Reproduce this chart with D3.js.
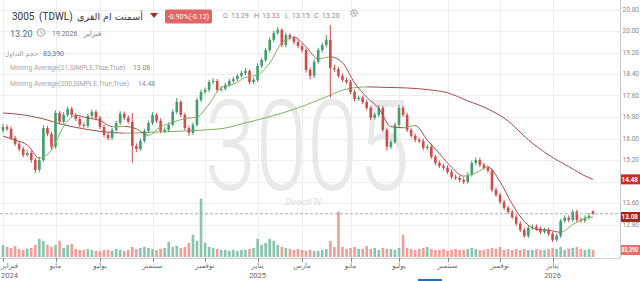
<!DOCTYPE html>
<html><head><meta charset="utf-8">
<script src="https://cdn.jsdelivr.net/npm/d3@7"></script>
<style>
html,body{margin:0;padding:0;background:#fff;overflow:hidden;}
svg{display:block;font-family:Roboto,"Noto Sans","DejaVu Sans",sans-serif;}
</style></head><body>
<svg id="c" width="640" height="281"></svg>
<script>
// ---------- DATA ----------
const dates = [
"2024-02-19","2024-02-25","2024-03-03","2024-03-07","2024-03-12","2024-03-17","2024-03-21","2024-03-26","2024-03-31","2024-04-04","2024-04-16","2024-04-22","2024-04-28",
"2024-05-01","2024-05-06","2024-05-12","2024-05-16","2024-05-21","2024-05-27","2024-06-02","2024-06-06","2024-06-11","2024-06-23","2024-06-27",
"2024-07-01","2024-07-04","2024-07-09","2024-07-14","2024-07-18","2024-07-23","2024-07-28","2024-08-01","2024-08-06","2024-08-11","2024-08-15","2024-08-20","2024-08-26",
"2024-09-01","2024-09-05","2024-09-10","2024-09-15","2024-09-19","2024-09-25","2024-09-30","2024-10-06","2024-10-10","2024-10-15","2024-10-20","2024-10-24","2024-10-29",
"2024-11-03","2024-11-07","2024-11-12","2024-11-17","2024-11-21","2024-11-26","2024-12-01","2024-12-05","2024-12-10","2024-12-15","2024-12-19","2024-12-24","2024-12-29",
"2025-01-01","2025-01-06","2025-01-12","2025-01-16","2025-01-21","2025-01-27","2025-02-02","2025-02-06","2025-02-11","2025-02-17","2025-02-24",
"2025-03-02","2025-03-06","2025-03-11","2025-03-16","2025-03-20","2025-03-25","2025-04-06","2025-04-10","2025-04-15","2025-04-20","2025-04-24","2025-04-29",
"2025-05-01","2025-05-06","2025-05-11","2025-05-15","2025-05-20","2025-05-25","2025-05-29","2025-06-03","2025-06-15","2025-06-19","2025-06-24","2025-06-29",
"2025-07-01","2025-07-06","2025-07-10","2025-07-15","2025-07-20","2025-07-24","2025-07-29","2025-08-03","2025-08-07","2025-08-12","2025-08-18","2025-08-25",
"2025-09-01","2025-09-04","2025-09-09","2025-09-14","2025-09-18","2025-09-24","2025-09-29","2025-10-05","2025-10-09","2025-10-14","2025-10-19","2025-10-23","2025-10-28",
"2025-11-02","2025-11-06","2025-11-11","2025-11-16","2025-11-20","2025-11-25","2025-11-30","2025-12-04","2025-12-09","2025-12-14","2025-12-18","2025-12-23","2025-12-28",
"2026-01-01","2026-01-05","2026-01-08","2026-01-13","2026-01-18","2026-01-22","2026-01-27","2026-02-01","2026-02-05","2026-02-10","2026-02-19"];

const opens = [
16.30,16.43,16.36,16.02,15.80,15.61,15.39,15.46,15.20,14.83,
15.20,16.39,16.17,15.69,16.95,16.62,16.88,17.10,16.88,16.73,
16.51,16.47,16.84,16.99,16.77,16.43,16.13,16.02,16.32,16.58,
16.92,16.77,16.62,15.72,15.61,15.91,16.28,16.58,16.88,16.66,
16.28,16.32,16.51,16.99,17.36,16.88,16.39,16.21,16.51,17.43,
17.73,17.81,18.10,18.14,17.81,17.85,17.99,18.14,18.21,18.33,
18.44,18.51,18.10,18.18,18.70,18.92,19.29,19.67,19.93,20.04,
19.48,19.85,19.74,19.59,19.44,19.29,18.55,18.33,18.85,19.29,
19.48,19.67,18.62,18.58,18.33,18.18,18.10,17.73,17.47,17.52,
17.36,17.14,16.77,16.88,17.14,16.32,15.69,15.87,16.51,17.14,
16.88,16.32,16.10,15.95,15.90,15.65,15.69,15.32,15.09,14.98,
14.91,14.76,14.57,14.53,14.46,14.39,14.65,15.09,15.20,15.02,
14.91,14.80,14.09,13.90,13.64,13.42,13.27,13.08,12.83,12.60,
12.38,12.68,12.72,12.64,12.53,12.60,12.45,12.23,12.38,12.94,
13.05,12.97,13.27,12.97,12.94,13.05,13.29];

const highs = [
16.55,16.52,16.45,16.10,15.90,15.70,15.56,15.55,15.28,15.32,
16.50,16.48,16.25,17.05,17.02,16.98,17.20,17.18,16.95,16.82,
16.60,16.92,17.08,17.07,16.85,16.52,16.22,16.40,16.66,17.02,
17.00,16.86,16.95,15.82,16.00,16.36,16.66,16.98,16.95,16.75,
16.42,16.60,17.08,17.50,17.42,16.96,16.48,16.60,17.52,17.82,
17.90,18.18,18.25,18.22,17.95,18.08,18.22,18.30,18.42,18.52,
18.62,18.58,18.26,18.80,19.00,19.38,19.76,20.02,20.15,20.10,
19.95,19.92,19.82,19.68,19.52,19.36,18.64,18.94,19.38,19.56,
19.85,20.22,18.75,18.66,18.42,18.26,18.18,17.82,17.60,17.60,
17.45,17.22,16.96,17.25,17.22,16.40,15.96,16.60,17.25,17.22,
16.96,16.40,16.18,16.04,16.00,15.78,15.78,15.40,15.18,15.06,
15.00,14.85,14.66,14.62,14.55,14.74,15.18,15.30,15.28,15.10,
15.00,14.88,14.18,13.98,13.72,13.50,13.35,13.16,12.92,12.68,
12.76,12.80,12.80,12.72,12.68,12.68,12.52,12.46,13.02,13.14,
13.14,13.36,13.35,13.06,13.14,13.22,13.33];

const lows = [
16.20,16.28,15.95,15.72,15.52,15.30,15.32,15.10,14.72,14.75,
15.12,16.08,15.60,15.62,16.52,16.55,16.80,16.80,16.65,16.42,
16.40,16.40,16.76,16.68,16.35,16.05,15.93,15.95,16.25,16.50,
16.68,16.55,15.10,15.50,15.55,15.84,16.20,16.50,16.58,16.20,
16.20,16.24,16.44,16.90,16.80,16.30,16.10,16.14,16.44,17.35,
17.65,17.72,18.02,17.72,17.74,17.78,17.92,18.06,18.14,18.26,
18.36,18.02,18.02,18.10,18.62,18.85,19.20,19.58,19.85,19.40,
19.40,19.65,19.50,19.36,19.20,18.45,18.20,18.25,18.78,19.20,
19.40,17.52,18.48,18.25,18.10,18.02,17.65,17.38,17.40,17.28,
17.05,16.68,16.70,16.80,16.24,15.55,15.60,15.80,16.42,16.80,
16.24,16.02,15.86,15.82,15.56,15.58,15.24,15.00,14.90,14.82,
14.68,14.49,14.45,14.38,14.30,14.32,14.58,15.00,14.94,14.84,
14.72,14.00,13.82,13.56,13.34,13.19,13.00,12.75,12.52,12.30,
12.30,12.60,12.56,12.45,12.46,12.38,12.15,12.16,12.30,12.86,
12.88,12.90,12.88,12.86,12.86,12.98,13.15];

const closes = [
16.43,16.36,16.02,15.80,15.61,15.39,15.46,15.20,14.83,15.20,
16.39,16.17,15.69,16.95,16.62,16.88,17.10,16.88,16.73,16.51,
16.47,16.84,16.99,16.77,16.43,16.13,16.02,16.32,16.58,16.92,
16.77,16.62,15.72,15.61,15.91,16.28,16.58,16.88,16.66,16.28,
16.32,16.51,16.99,17.36,16.88,16.39,16.21,16.51,17.43,17.73,
17.81,18.10,18.14,17.81,17.85,17.99,18.14,18.21,18.33,18.44,
18.51,18.10,18.18,18.70,18.92,19.29,19.67,19.93,20.04,19.48,
19.85,19.74,19.59,19.44,19.29,18.55,18.33,18.85,19.29,19.48,
19.67,18.62,18.58,18.33,18.18,18.10,17.73,17.47,17.52,17.36,
17.14,16.77,16.88,17.14,16.32,15.69,15.87,16.51,17.14,16.88,
16.32,16.10,15.95,15.90,15.65,15.69,15.32,15.09,14.98,14.91,
14.76,14.57,14.53,14.46,14.39,14.65,15.09,15.20,15.02,14.91,
14.80,14.09,13.90,13.64,13.42,13.27,13.08,12.83,12.60,12.38,
12.68,12.72,12.64,12.53,12.60,12.45,12.23,12.38,12.94,13.05,
12.97,13.27,12.97,12.94,13.05,13.12,13.20];

// volume, thousands of shares
const volumes = [
144,120,108,132,96,84,96,108,144,216,
192,144,120,144,192,108,144,156,96,84,
84,96,84,72,72,84,84,72,96,84,
72,84,120,96,108,120,108,96,84,96,
108,180,120,132,108,120,168,264,192,696,
168,120,108,96,84,84,72,84,72,84,
84,96,108,216,144,168,216,192,144,120,
108,96,84,96,84,72,84,72,72,84,
96,192,120,540,120,96,108,120,96,96,
132,96,108,84,108,96,96,84,108,264,
108,96,84,96,108,120,96,84,84,96,
72,84,96,84,84,96,108,96,84,84,
96,108,96,120,84,96,84,96,84,96,
84,84,96,84,84,96,108,96,120,84,
96,108,120,96,84,96,83.39];

// Moving average 21, read every 3rd session (plus last)
const ma21Values = [16.09,15.94,15.76,15.27,15.57,16.45,16.86,16.76,16.67,16.44,
16.45,16.36,16.12,16.43,16.60,16.74,16.79,17.29,17.90,18.02,
18.27,18.37,18.81,19.55,19.77,19.41,18.96,19.04,18.82,18.07,
17.54,17.12,16.44,16.40,16.48,15.94,15.44,14.93,14.60,14.72,
14.94,14.39,13.56,12.92,12.62,12.59,12.51,12.80,13.03,13.08];
// Moving average 200, read every 5th session (plus last)
const ma200Values = [16.95,16.88,16.73,16.51,16.36,16.25,16.20,16.22,16.25,16.28,
16.32,16.39,16.58,16.77,16.99,17.25,17.55,17.84,17.92,17.90,
17.88,17.82,17.70,17.40,17.10,16.65,15.95,15.39,14.95,14.54,14.48];

const priceTicks = [12.80,13.60,14.40,15.20,16.00,16.80,17.60,18.40,19.20,20.00,20.80];
const monthTickDates = ["2024-02-19","2024-05-01","2024-07-01","2024-09-01","2024-11-01","2025-01-01","2025-03-01","2025-05-01","2025-07-01","2025-09-01","2025-11-01","2026-01-01"];
const monthTickLabels = ["فبراير","مايو","يوليو","سبتمبر","نوفمبر","يناير","مارس","مايو","يوليو","سبتمبر","نوفمبر","يناير"];
const monthTickYears = ["2024","","","","","2025","","","","","","2026"];

const lastVolumeText = "83,390";
const changeText = "-0.90%(-0.12)";
const ohlcText = ["O","13.29","H","13.33","L","13.15","C","13.20"];

// ---------- DRAW ----------
const svg = d3.select("#c");
const W = 640, H = 281;
const plotRight = 620, axisY = 258;
const x = d3.scalePoint().domain(dates).range([3, 593]);
const y = d3.scaleLinear().domain([12.8, 20.8]).range([224.5, 9.5]);
const yv = d3.scaleLinear().domain([0, 1000]).range([257, 173]);
const n = dates.length;
const GREEN = "#3f9e6c", RED = "#d44a4a";
const MA_UP = "#7fae5c", MA_DN = "#a64a4a";
const defs = svg.append("defs");

// value boxes on the price axis (drawn later); used to hide covered tick labels
const boxYs = [y(ma200Values[ma200Values.length - 1]), y(ma21Values[ma21Values.length - 1])];
const visibleTicks = priceTicks.filter(t => boxYs.every(b => Math.abs(y(t) - b) > 6));

// grid
const grid = svg.append("g");
grid.selectAll("line.h").data(priceTicks).join("line")
  .attr("x1", 0).attr("x2", plotRight).attr("y1", d => Math.round(y(d)) + 0.5).attr("y2", d => Math.round(y(d)) + 0.5)
  .attr("stroke", "#eeeeee").attr("stroke-width", 1);
const tickIdx = monthTickDates.map(md => dates.findIndex(d => d >= md));
grid.selectAll("line.v").data(tickIdx).join("line")
  .attr("x1", i => Math.round(x(dates[i])) + 0.5).attr("x2", i => Math.round(x(dates[i])) + 0.5)
  .attr("y1", 0).attr("y2", axisY).attr("stroke", "#eeeeee");

// watermark
svg.append("text").attr("x", 307).attr("y", 190).attr("text-anchor", "middle")
  .attr("font-size", 126).attr("font-weight", 300).attr("fill", "#e9e9e9")
  .attr("textLength", 205).attr("lengthAdjust", "spacingAndGlyphs").text("3005");
svg.append("text").attr("x", 303).attr("y", 205).attr("text-anchor", "middle")
  .attr("font-size", 9.5).attr("font-style", "italic").attr("fill", "#dcdcdc").text("DirectFN");

// volume
svg.append("g").selectAll("rect").data(d3.range(n)).join("rect")
  .attr("x", i => x(dates[i]) - 1.3).attr("width", 2.6)
  .attr("y", i => yv(volumes[i])).attr("height", i => yv(0) - yv(volumes[i]))
  .attr("fill", i => closes[i] >= opens[i] ? "#72bba0" : "#f08d85").attr("opacity", 0.85);

// MA line helper with slope colouring
function maLine(values, idxs, id, width) {
  const pts = values.map((v, k) => [x(dates[idxs[k]]), y(v), v]);
  const g = defs.append("linearGradient").attr("id", id).attr("gradientUnits", "userSpaceOnUse")
    .attr("x1", 0).attr("x2", W).attr("y1", 0).attr("y2", 0);
  for (let k = 0; k < pts.length - 1; k++) {
    const col = pts[k + 1][2] >= pts[k][2] ? MA_UP : MA_DN;
    g.append("stop").attr("offset", pts[k][0] / W).attr("stop-color", col);
    g.append("stop").attr("offset", pts[k + 1][0] / W).attr("stop-color", col);
  }
  svg.append("path").attr("d", d3.line().curve(d3.curveMonotoneX)(pts.map(p => [p[0], p[1]])))
    .attr("fill", "none").attr("stroke", `url(#${id})`).attr("stroke-width", width);
}
const ma200Idx = d3.range(0, n, 5).concat([n - 1]);
const ma21Idx = d3.range(0, n, 3).concat([n - 1]);
maLine(ma200Values, ma200Idx, "g200", 1);

// candles
const cg = svg.append("g");
d3.range(n).forEach(i => {
  const cx = x(dates[i]);
  const col = closes[i] >= opens[i] ? GREEN : RED;
  cg.append("line").attr("x1", cx).attr("x2", cx).attr("y1", y(highs[i])).attr("y2", y(lows[i]))
    .attr("stroke", col).attr("stroke-width", 1);
  const top = y(Math.max(opens[i], closes[i])), bot = y(Math.min(opens[i], closes[i]));
  cg.append("rect").attr("x", cx - 1.3).attr("width", 2.6).attr("y", top).attr("height", Math.max(1, bot - top)).attr("fill", col);
});
maLine(ma21Values, ma21Idx, "g21", 1);

// last price dashed line
svg.append("line").attr("x1", 0).attr("x2", plotRight)
  .attr("y1", y(closes[n - 1])).attr("y2", y(closes[n - 1]))
  .attr("stroke", "#9a9a9a").attr("stroke-dasharray", "3,2").attr("stroke-width", 0.8);

// axes
svg.append("line").attr("x1", plotRight + 0.5).attr("x2", plotRight + 0.5).attr("y1", 0).attr("y2", axisY).attr("stroke", "#c8c8c8");
svg.append("line").attr("x1", 0).attr("x2", plotRight).attr("y1", axisY + 0.5).attr("y2", axisY + 0.5).attr("stroke", "#d0d0d0");
svg.append("g").selectAll("text").data(visibleTicks).join("text")
  .attr("x", 622.5).attr("y", d => y(d) + 2.4).attr("font-size", 6.6).attr("fill", "#8a8a8a")
  .text(d => d3.format(".2f")(d));
const xt = svg.append("g");
tickIdx.forEach((i, k) => {
  const tx = x(dates[i]);
  xt.append("line").attr("x1", Math.round(tx) + 0.5).attr("x2", Math.round(tx) + 0.5).attr("y1", axisY).attr("y2", axisY + 4).attr("stroke", "#888");
  const anchor = k === 0 ? "start" : "middle";
  const lx = k === 0 ? 1 : tx;
  xt.append("text").attr("x", lx).attr("y", 268).attr("text-anchor", anchor)
    .attr("font-family", "'DejaVu Sans',sans-serif").attr("font-size", 7).attr("fill", "#6a6a6a").text(monthTickLabels[k]);
  if (monthTickYears[k]) xt.append("text").attr("x", lx).attr("y", 277.5).attr("text-anchor", anchor)
    .attr("font-size", 7.5).attr("fill", "#6a6a6a").text(monthTickYears[k]);
});

// right side value boxes
function valBox(yy, fill, txt) {
  svg.append("rect").attr("x", plotRight + 1).attr("y", yy - 5).attr("width", W - plotRight - 1).attr("height", 10).attr("fill", fill);
  svg.append("text").attr("x", 621.5).attr("y", yy + 2.3).attr("font-size", 6.4).attr("font-weight", 700).attr("fill", "#fff")
    .attr("textLength", 16.5).attr("lengthAdjust", "spacingAndGlyphs").text(txt);
}
valBox(boxYs[0], "#d02b2b", d3.format(".2f")(ma200Values[ma200Values.length - 1]));
valBox(boxYs[1], "#b51d1d", d3.format(".2f")(ma21Values[ma21Values.length - 1]));
valBox(yv(volumes[n - 1]), "#ee6d68", lastVolumeText);

// scroll indicator
svg.append("rect").attr("x", 418).attr("y", 279).attr("width", 24).attr("height", 2).attr("fill", "#2b6cb0");

// header
const hd = svg.append("g");
hd.append("text").attr("x", 12).attr("y", 19.5).attr("font-size", 10).attr("fill", "#333").text("3005");
hd.append("text").attr("x", 39).attr("y", 19.5).attr("font-size", 10).attr("fill", "#333").text("(TDWL)");
hd.append("text").attr("x", 143).attr("y", 19.5).attr("text-anchor", "end").attr("font-family", "'DejaVu Sans',sans-serif").attr("font-size", 9.5).attr("fill", "#333")
  .attr("textLength", 66).attr("lengthAdjust", "spacingAndGlyphs").text("أسمنت ام القرى");
hd.append("path").attr("d", "M150,13 L158,13 L154,18 Z").attr("fill", "#a52a2a");
hd.append("rect").attr("x", 165).attr("y", 9.5).attr("width", 47).attr("height", 14).attr("rx", 2).attr("fill", "#e06666");
hd.append("text").attr("x", 188.5).attr("y", 19).attr("text-anchor", "middle").attr("font-size", 7).attr("fill", "#fff").text(changeText);
const ohlcX = [223, 231, 254, 262, 285, 292, 314, 322];
ohlcText.forEach((t, k) => hd.append("text").attr("x", ohlcX[k]).attr("y", 17.5).attr("font-size", 7).attr("fill", "#8a8a8a").text(t));
// gear
hd.append("circle").attr("cx", 354).attr("cy", 13).attr("r", 3.2).attr("fill", "none").attr("stroke", "#999").attr("stroke-width", 1.2).attr("stroke-dasharray", "1.6,0.9");
hd.append("circle").attr("cx", 354).attr("cy", 13).attr("r", 1.2).attr("fill", "none").attr("stroke", "#999").attr("stroke-width", 0.8);

hd.append("text").attr("x", 10).attr("y", 36.5).attr("font-size", 9).attr("fill", "#3f6fa6").text(d3.format(".2f")(closes[n - 1]));
hd.append("circle").attr("cx", 41).attr("cy", 32.5).attr("r", 3.8).attr("fill", "none").attr("stroke", "#999").attr("stroke-width", 0.9);
hd.append("path").attr("d", "M41,30.3 L41,32.7 L42.8,33.6").attr("fill", "none").attr("stroke", "#999").attr("stroke-width", 0.8);
hd.append("text").attr("x", 52).attr("y", 35.5).attr("font-size", 7).attr("fill", "#777").text("19 2026");
hd.append("text").attr("x", 101).attr("y", 35.5).attr("text-anchor", "end").attr("font-family", "'DejaVu Sans',sans-serif").attr("font-size", 7).attr("fill", "#777").text("فبراير");

hd.append("text").attr("x", 38).attr("y", 55.5).attr("text-anchor", "end").attr("font-family", "'DejaVu Sans',sans-serif").attr("font-size", 6.5).attr("fill", "#a0a0a0").text("حجم التداول");
hd.append("text").attr("x", 39.5).attr("y", 55.5).attr("font-size", 6.5).attr("fill", "#a0a0a0").text("·");
hd.append("text").attr("x", 43).attr("y", 55.5).attr("font-size", 7).attr("fill", "#4a78b0").text(lastVolumeText);

hd.append("text").attr("x", 10).attr("y", 70).attr("font-size", 6.8).attr("fill", "#a5a5a5").text("Moving Average(21,SIMPLE,True,True)");
hd.append("text").attr("x", 133).attr("y", 70).attr("font-size", 6.8).attr("fill", "#888").text(d3.format(".2f")(ma21Values[ma21Values.length - 1]));
hd.append("text").attr("x", 10).attr("y", 85.5).attr("font-size", 6.8).attr("fill", "#a5a5a5").text("Moving Average(200,SIMPLE,True,True)");
hd.append("text").attr("x", 138).attr("y", 85.5).attr("font-size", 6.8).attr("fill", "#888").text(d3.format(".2f")(ma200Values[ma200Values.length - 1]));
</script>
</body></html>
